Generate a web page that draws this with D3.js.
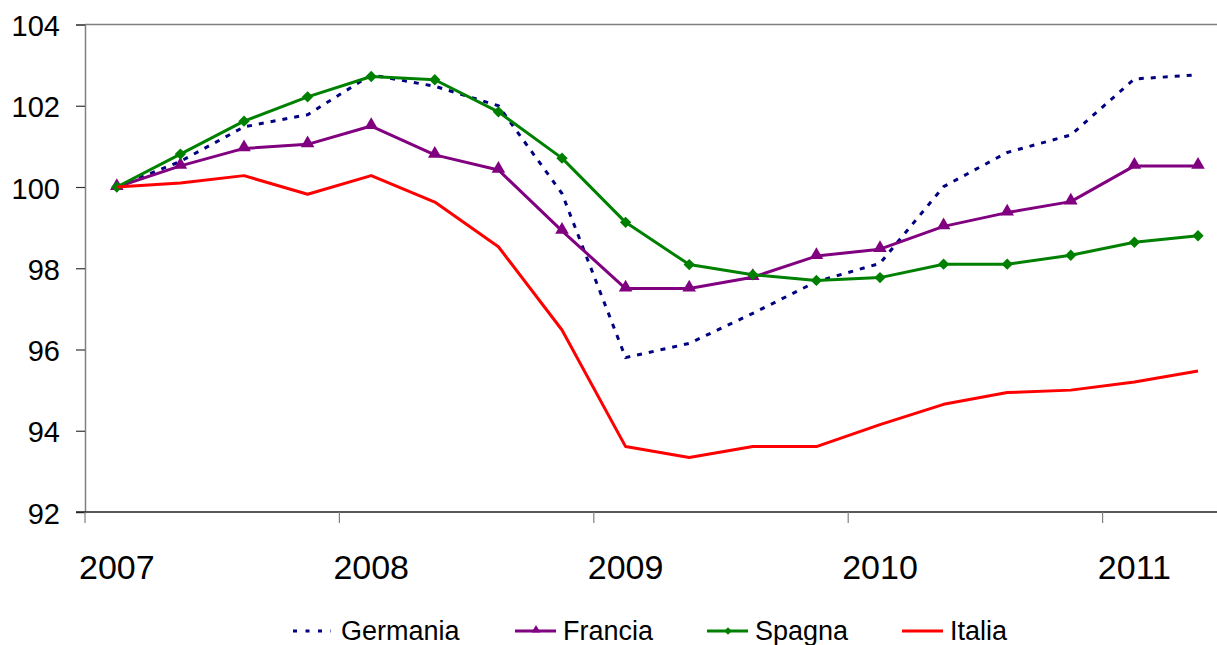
<!DOCTYPE html>
<html>
<head>
<meta charset="utf-8">
<script src="https://cdn.jsdelivr.net/npm/d3@7"></script>
<style>
  body { margin: 0; background: #fff; }
  svg { display: block; font-family: "Liberation Sans", Arial, sans-serif; }
</style>
</head>
<body>
<div id="chart"></div>
<script>
// quarterly categories, 2007 Q1 .. 2011 Q2
const quarters = [
  "2007-1", "2007-2", "2007-3", "2007-4",
  "2008-1", "2008-2", "2008-3", "2008-4",
  "2009-1", "2009-2", "2009-3", "2009-4",
  "2010-1", "2010-2", "2010-3", "2010-4",
  "2011-1", "2011-2"
];
const years = ["2007", "2008", "2009", "2010", "2011"];
const yTicks = [92, 94, 96, 98, 100, 102, 104];

const germania = [100.0, 100.63, 101.48, 101.78, 102.76, 102.48, 102.0, 99.84, 95.8, 96.15, 96.89, 97.67, 98.12, 100.01, 100.85, 101.28, 102.66, 102.76];
const francia  = [100.0, 100.52, 100.95, 101.05, 101.5, 100.79, 100.42, 98.92, 97.5, 97.5, 97.78, 98.3, 98.47, 99.03, 99.37, 99.64, 100.52, 100.52];
const spagna   = [100.0, 100.81, 101.62, 102.22, 102.72, 102.64, 101.85, 100.71, 99.13, 98.09, 97.84, 97.7, 97.77, 98.1, 98.1, 98.32, 98.64, 98.8];
const italia   = [100.0, 100.1, 100.28, 99.82, 100.28, 99.63, 98.53, 96.48, 93.61, 93.34, 93.61, 93.61, 94.15, 94.65, 94.94, 95.0, 95.2, 95.47];

const seriesNames = ["Germania", "Francia", "Spagna", "Italia"];

function drawChart() {
    const width = 1217;
    const height = 645;

    const svg = d3.select("#chart").append("svg")
        .attr("width", width)
        .attr("height", height);

    // plot area runs past the right edge of the picture
    const left = 85, top = 24.5, bottom = 512;
    const band = 63.6;

    const x = d3.scaleBand()
        .domain(quarters)
        .range([left, left + band * quarters.length])
        .padding(0);
    const xc = q => x(q) + x.bandwidth() / 2;

    const y = d3.scaleLinear()
        .domain([92, 104])
        .range([bottom, top]);

    // plot border (top, left)
    svg.append("line")
        .attr("x1", left).attr("x2", width)
        .attr("y1", top).attr("y2", top)
        .attr("stroke", "#808080").attr("stroke-width", 1.5);

    // y axis
    const yAxis = svg.append("g")
        .attr("transform", `translate(${left},0)`)
        .call(d3.axisLeft(y).tickValues(yTicks).tickSize(9).tickPadding(16).tickFormat(d3.format("d")));
    yAxis.select(".domain").attr("stroke", "#808080").attr("stroke-width", 1.5);
    yAxis.selectAll(".tick line").attr("stroke", "#333").attr("stroke-width", 1.2);
    yAxis.selectAll(".tick text")
        .attr("font-size", 29)
        .attr("fill", "#000")
        .attr("dy", "0.38em");

    // x axis: line, year ticks between categories, labels under first quarter
    svg.append("line")
        .attr("x1", left - 9).attr("x2", width)
        .attr("y1", bottom).attr("y2", bottom)
        .attr("stroke", "#222").attr("stroke-width", 1.5);

    const firstQ = years.map(yr => yr + "-1");
    svg.append("g")
        .selectAll("line")
        .data(firstQ)
        .join("line")
        .attr("x1", d => x(d)).attr("x2", d => x(d))
        .attr("y1", bottom).attr("y2", bottom + 11)
        .attr("stroke", "#808080").attr("stroke-width", 1.2);

    svg.append("g")
        .selectAll("text")
        .data(years)
        .join("text")
        .attr("x", d => xc(d + "-1"))
        .attr("y", 579)
        .attr("text-anchor", "middle")
        .attr("font-size", 34)
        .attr("fill", "#000")
        .text(d => d);

    // series
    const series = [
        { name: seriesNames[0], values: germania, color: "#000080", dash: "5,7", marker: null },
        { name: seriesNames[1], values: francia,  color: "#800080", dash: null, marker: "triangle" },
        { name: seriesNames[2], values: spagna,   color: "#008000", dash: null, marker: "diamond" },
        { name: seriesNames[3], values: italia,   color: "#ff0000", dash: null, marker: null }
    ];

    const line = d3.line()
        .x((d, i) => xc(quarters[i]))
        .y(d => y(d));

    const triangle = d3.symbol(d3.symbolTriangle, 80);
    const diamond = d3.symbol(d3.symbolSquare, 64);
    const smallTriangle = d3.symbol(d3.symbolTriangle, 34);
    const smallDiamond = d3.symbol(d3.symbolSquare, 28);

    const plot = svg.append("g");

    series.forEach(s => {
        plot.append("path")
            .datum(s.values)
            .attr("fill", "none")
            .attr("stroke", s.color)
            .attr("stroke-width", 3)
            .attr("stroke-dasharray", s.dash)
            .attr("stroke-linejoin", "round")
            .attr("d", line);

        if (s.marker) {
            plot.append("g")
                .selectAll("path")
                .data(s.values)
                .join("path")
                .attr("transform", (d, i) => s.marker === "diamond"
                    ? `translate(${xc(quarters[i])},${y(d)}) rotate(45)`
                    : `translate(${xc(quarters[i])},${y(d) - 1})`)
                .attr("d", s.marker === "diamond" ? diamond : triangle)
                .attr("fill", s.color);
        }
    });

    // legend
    const legendX = [293, 515, 707, 902];
    const legendY = 631;
    const legend = svg.append("g");
    series.forEach((s, i) => {
        const g = legend.append("g").attr("transform", `translate(${legendX[i]},${legendY})`);
        g.append("line")
            .attr("x1", 0).attr("x2", s.dash ? 38 : 41)
            .attr("y1", 0).attr("y2", 0)
            .attr("stroke", s.color)
            .attr("stroke-width", 3)
            .attr("stroke-dasharray", s.dash ? "4,8.5" : null);
        if (s.marker) {
            g.append("path")
                .attr("transform", s.marker === "diamond" ? "translate(21,0) rotate(45)" : "translate(21,-1)")
                .attr("d", s.marker === "diamond" ? smallDiamond : smallTriangle)
                .attr("fill", s.color);
        }
        g.append("text")
            .attr("x", 48)
            .attr("y", 9)
            .attr("font-size", 27)
            .attr("fill", "#000")
            .text(s.name);
    });
}

drawChart();
</script>
</body>
</html>
